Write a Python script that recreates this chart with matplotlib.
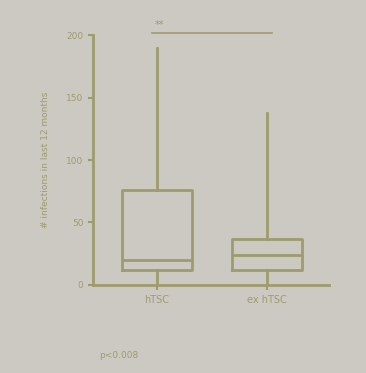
import matplotlib
matplotlib.use("Agg")
import matplotlib.pyplot as plt

groups = ["hTSC", "ex hTSC"]
q1 = [12, 12]
medians = [20, 24]
q3 = [76, 37]
whis_lo = [0, 0]
whis_hi = [190, 138]
yticks = [0, 50, 100, 150, 200]

ink = "#9e9c6e"
bg = "#cbc9c2"

fig = plt.figure(figsize=(3.66, 3.73), dpi=100, facecolor=bg)
ax = fig.add_axes([0.255, 0.236, 0.645, 0.67], facecolor=bg)

stats = [
    dict(label=g, q1=a, med=m, q3=b, whislo=lo, whishi=hi, fliers=[])
    for g, a, m, b, lo, hi in zip(groups, q1, medians, q3, whis_lo, whis_hi)
]
line = dict(color=ink, linewidth=2)
ax.bxp(stats, positions=[1, 2], widths=0.64, showfliers=False,
       boxprops=line, whiskerprops=line, capprops=dict(linewidth=0),
       medianprops=line)

ax.set_xlim(0.42, 2.57)
ax.set_ylim(0, 200)
ax.set_yticks(yticks)
ax.tick_params(colors=ink, labelcolor=ink, labelsize=6.5, width=1.5)
ax.set_xticks([1, 2])
ax.set_xticklabels(groups, fontsize=7)
for side in ("top", "right"):
    ax.spines[side].set_visible(False)
for side in ("left", "bottom"):
    ax.spines[side].set_color(ink)
    ax.spines[side].set_linewidth(2)

ax.set_ylabel("# infections in last 12 months", color=ink, fontsize=6.5,
              labelpad=12)

# significance bar
ax.plot([0.95, 2.05], [202, 202], color=ink, lw=1.2, clip_on=False)
ax.text(0.98, 206, "**", color=ink, fontsize=7, clip_on=False)

fig.text(0.27, 0.04, "p<0.008", color=ink, fontsize=6.5)

fig.savefig("out.png", dpi=100, facecolor=bg)
